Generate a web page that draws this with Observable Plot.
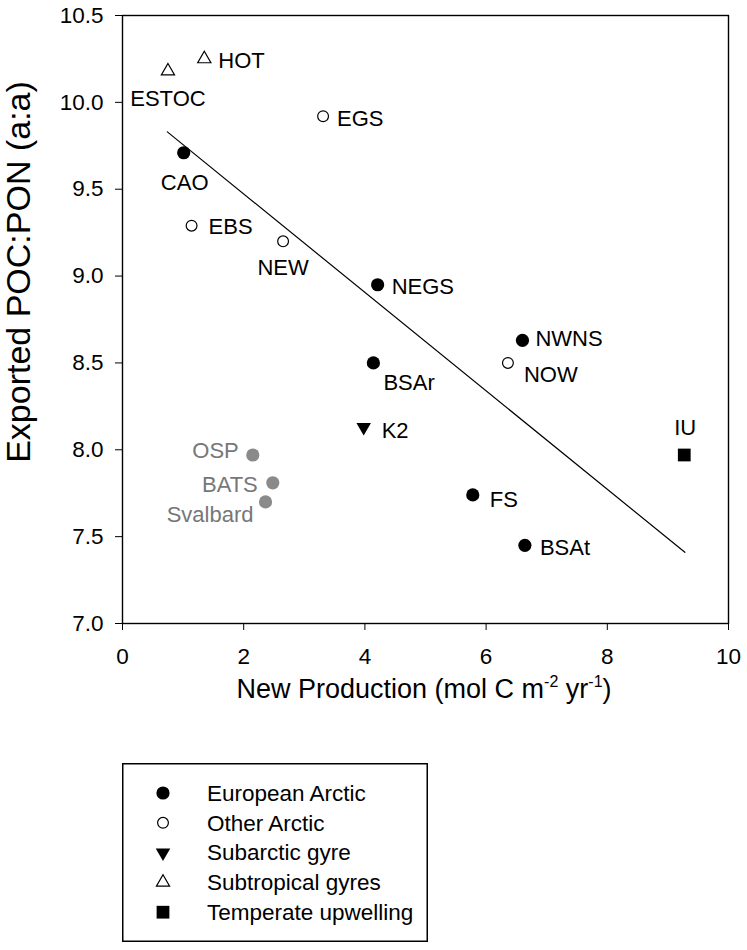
<!DOCTYPE html>
<html><head><meta charset="utf-8">
<script src="https://cdn.jsdelivr.net/npm/d3@7"></script>
<script src="https://cdn.jsdelivr.net/npm/@observablehq/plot@0.6"></script>
<style>
body{margin:0;background:#fff;font-family:"Liberation Sans",Arial,sans-serif;}
#wrap{position:relative;width:747px;height:950px;}
#legend{position:absolute;left:122px;top:763px;}
</style></head><body><div id="wrap"><div id="chart"></div><div id="legend"></div></div>
<script>
// ---- data ----
const sites = ["HOT","ESTOC","EGS","CAO","EBS","NEW","NEGS","BSAr","K2","OSP","BATS","Svalbard","NWNS","NOW","IU","FS","BSAt"];
const newProduction = [1.35,0.75,3.31,1.01,1.14,2.65,4.21,4.14,3.98,2.15,2.48,2.36,6.60,6.36,9.27,5.78,6.64];
const pocPon = [10.25,10.18,9.92,9.71,9.29,9.20,8.95,8.50,8.13,7.97,7.81,7.70,8.63,8.50,7.97,7.74,7.45];
const groups = ["Subtropical gyres","Subtropical gyres","Other Arctic","European Arctic","Other Arctic","Other Arctic","European Arctic","European Arctic","Subarctic gyre","Other studies","Other studies","Other studies","European Arctic","Other Arctic","Temperate upwelling","European Arctic","European Arctic"];
const fitX = [0.74, 9.28];
const fitY = [9.83, 7.41];
const xTicks = [0, 2, 4, 6, 8, 10];
const yTicks = [7.0, 7.5, 8.0, 8.5, 9.0, 9.5, 10.0, 10.5];
const legendGroups = ["European Arctic","Other Arctic","Subarctic gyre","Subtropical gyres","Temperate upwelling"];

// ---- styles ----
const FONT = '"Liberation Sans", Arial, sans-serif';
const FS = 22;
const TICK_FS = 22.5;
const groupStyle = {
  "European Arctic":    {symbol:"circle",   fill:"#000", stroke:"none", r:6.6, rotate:0},
  "Other Arctic":       {symbol:"circle",   fill:"#fff", stroke:"#000", r:5.4, rotate:0},
  "Subarctic gyre":     {symbol:"triangle", fill:"#000", stroke:"none", r:5.4, rotate:180},
  "Subtropical gyres":  {symbol:"triangle", fill:"#fff", stroke:"#000", r:4.9, rotate:0},
  "Temperate upwelling":{symbol:"square",   fill:"#000", stroke:"none", r:7.2, rotate:0},
  "Other studies":      {symbol:"circle",   fill:"#8a8a8a", stroke:"none", r:6.6, rotate:0}
};
const labelPlacement = {
  HOT:{dx:14,dy:2,anchor:"start"}, ESTOC:{dx:0,dy:28,anchor:"middle"}, EGS:{dx:14,dy:3,anchor:"start"},
  CAO:{dx:1,dy:30,anchor:"middle"}, EBS:{dx:17,dy:1,anchor:"start"}, NEW:{dx:0,dy:27,anchor:"middle"},
  NEGS:{dx:14,dy:2,anchor:"start"}, BSAr:{dx:10,dy:20,anchor:"start"}, K2:{dx:18,dy:4,anchor:"start"},
  OSP:{dx:-14,dy:-4,anchor:"end"}, BATS:{dx:-15,dy:2,anchor:"end"}, Svalbard:{dx:-12,dy:13,anchor:"end"},
  NWNS:{dx:13,dy:-1,anchor:"start"}, NOW:{dx:16,dy:12,anchor:"start"}, IU:{dx:1,dy:-27,anchor:"middle"},
  FS:{dx:17,dy:5,anchor:"start"}, BSAt:{dx:15,dy:3,anchor:"start"}
};

const table = sites.map((s, i) => ({site: s, np: newProduction[i], ratio: pocPon[i], group: groups[i]}));
const fit = fitX.map((x, i) => ({x, y: fitY[i]}));

const marks = [];
marks.push(Plot.line(fit, {x: "x", y: "y", stroke: "#000", strokeWidth: 1.2}));
for (const g of Object.keys(groupStyle)) {
  const st = groupStyle[g];
  marks.push(Plot.dot(table, {filter: d => d.group === g, x: "np", y: "ratio", symbol: st.symbol,
    fill: st.fill, stroke: st.stroke, strokeWidth: 1.2, r: st.r, rotate: st.rotate}));
}
for (const d of table) {
  const p = labelPlacement[d.site];
  marks.push(Plot.text(table, {filter: e => e.site === d.site, x: "np", y: "ratio", text: "site",
    dx: p.dx, dy: p.dy, textAnchor: p.anchor, fontSize: FS,
    fill: d.group === "Other studies" ? "#777" : "#000"}));
}
marks.push(Plot.axisX({ticks: xTicks, tickSize: 7, tickPadding: 18, fontSize: TICK_FS, label: null, stroke: "#000"}));
marks.push(Plot.axisY({ticks: yTicks, tickSize: 7, tickPadding: 12, fontSize: TICK_FS, label: null,
  tickFormat: d3.format(".1f")}));
marks.push(Plot.frame({stroke: "#000", strokeWidth: 1.4}));

const chart = Plot.plot({
  width: 747, height: 730,
  marginLeft: 122, marginRight: 19, marginTop: 15, marginBottom: 107,
  x: {domain: [0, 10]},
  y: {domain: [7, 10.5]},
  style: {fontFamily: FONT, fontSize: FS + "px", background: "#fff", color: "#000"},
  marks
});
document.getElementById("chart").appendChild(chart);

const svg = d3.select(chart);
svg.selectAll("g").filter(function() {
  const a = this.getAttribute("aria-label") || "";
  return a.indexOf("tick label") >= 0;
}).attr("font-size", TICK_FS).style("font-size", TICK_FS + "px")
  .selectAll("text").attr("font-size", TICK_FS).style("font-size", TICK_FS + "px");

// axis titles with superscripts
const xt = svg.append("text").attr("x", 424).attr("y", 698).attr("text-anchor", "middle")
  .attr("font-size", 27).attr("font-family", FONT).attr("fill", "#000");
xt.append("tspan").text("New Production (mol C m");
xt.append("tspan").attr("font-size", 16).attr("dy", -11).text("-2");
xt.append("tspan").attr("dy", 11).text(" yr");
xt.append("tspan").attr("font-size", 16).attr("dy", -11).text("-1");
xt.append("tspan").attr("dy", 11).text(")");
svg.append("text").attr("transform", "translate(30,272) rotate(-90)").attr("text-anchor", "middle")
  .attr("font-size", 34).attr("font-family", FONT).attr("fill", "#000").text("Exported POC:PON (a:a)");

// legend
const lw = 306, lh = 179;
const lg = d3.select("#legend").append("svg").attr("width", lw).attr("height", lh);
lg.append("rect").attr("x", 0.75).attr("y", 0.75).attr("width", lw - 1.5).attr("height", lh - 1.5)
  .attr("fill", "#fff").attr("stroke", "#000").attr("stroke-width", 1.5);
const symMap = {circle: d3.symbolCircle, triangle: d3.symbolTriangle, square: d3.symbolSquare};
legendGroups.forEach((g, i) => {
  const st = groupStyle[g];
  const cy = 30 + i * 29.8;
  lg.append("path").attr("d", d3.symbol(symMap[st.symbol], Math.PI * st.r * st.r)())
    .attr("transform", `translate(41,${cy}) rotate(${st.rotate})`)
    .attr("fill", st.fill).attr("stroke", st.stroke).attr("stroke-width", 1.2);
  lg.append("text").attr("x", 85).attr("y", cy).attr("dy", "0.35em").attr("font-size", 22.5)
    .attr("font-family", FONT).attr("fill", "#000").text(g);
});
</script></body></html>
